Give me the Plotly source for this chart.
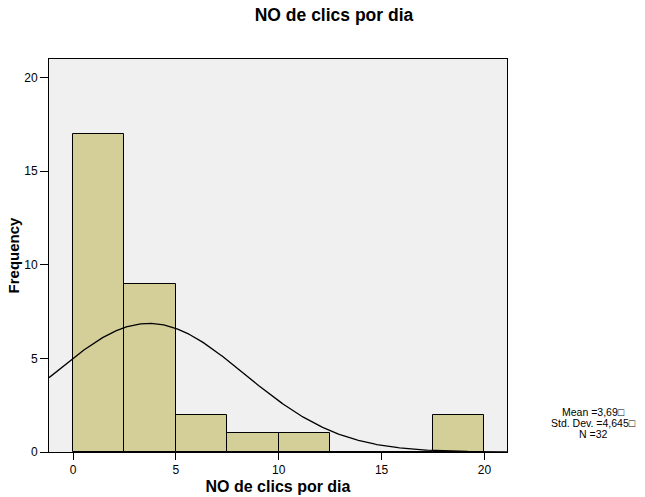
import numpy as np
import plotly.graph_objects as go

# Histogram of clicks per day (bin width 2.5)
bin_starts = [0.0, 2.5, 5.0, 7.5, 10.0, 12.5, 15.0, 17.5]
counts = [17, 9, 2, 1, 1, 0, 0, 2]
bin_width = 2.5

mean_val = 3.69
std_val = 4.645
n_val = 32

x_ticks = [0, 5, 10, 15, 20]
y_ticks = [0, 5, 10, 15, 20]

stats_lines = ["Mean =3,69\u25a1", "Std. Dev. =4,645\u25a1", "N =32"]

FONT = "Liberation Sans, Arial, sans-serif"
W, H = 645, 497
L, R, T, B = 49, 138, 59, 45

centers = [s + bin_width / 2 for s in bin_starts]

# Normal curve scaled to the histogram's counts
x_min, x_max = -1.17, 21.1
xc = np.linspace(x_min, x_max, 300)
yc = n_val * bin_width / (std_val * np.sqrt(2 * np.pi)) * np.exp(-0.5 * ((xc - mean_val) / std_val) ** 2)

fig = go.Figure()
fig.add_trace(go.Bar(
    x=centers, y=counts, width=bin_width,
    marker=dict(color="#D4CF98", line=dict(color="black", width=1)),
    hoverinfo="skip",
))
fig.add_trace(go.Scatter(
    x=xc, y=yc, mode="lines",
    line=dict(color="black", width=1.3),
    hoverinfo="skip",
))

fig.update_layout(
    width=W, height=H,
    margin=dict(l=L, r=R, t=T, b=B, autoexpand=False),
    paper_bgcolor="white",
    plot_bgcolor="#F0F0F0",
    showlegend=False,
    bargap=0,
    font=dict(family=FONT, color="black", size=11),
    title=dict(text="<b>NO de clics por dia</b>", x=334 / W, xanchor="center",
               xref="container", y=1 - 15 / H, yanchor="middle",
               font=dict(family=FONT, size=17.5, color="black")),
)

fig.update_xaxes(
    range=[x_min, x_max], tickvals=x_ticks, ticks="outside", ticklen=7,
    tickcolor="black", showline=True, linecolor="black", linewidth=1,
    mirror=True, showgrid=False, zeroline=False, automargin=False,
    tickfont=dict(family=FONT, size=12, color="black"),
    title=dict(text="<b>NO de clics por dia</b>", standoff=4,
               font=dict(family=FONT, size=16, color="black")),
)
fig.update_yaxes(
    range=[0, 21], tickvals=y_ticks, ticks="outside", ticklen=8,
    tickcolor="black", showline=True, linecolor="black", linewidth=1,
    mirror=True, showgrid=False, zeroline=False, automargin=False,
    tickfont=dict(family=FONT, size=12, color="black"),
    title=dict(text="<b>Frequency</b>", standoff=0,
               font=dict(family=FONT, size=15, color="black")),
)

# Summary statistics block to the right of the plot
pw, ph = W - L - R, H - T - B
for i, line in enumerate(stats_lines):
    py = 412 + 11 * i
    fig.add_annotation(
        x=(593 - L) / pw, y=(H - B - py) / ph, xref="paper", yref="paper",
        xanchor="center", yanchor="middle", showarrow=False,
        text=line, font=dict(family=FONT, size=10.5, color="black"),
        borderpad=0,
    )

fig.write_html("out.html")
